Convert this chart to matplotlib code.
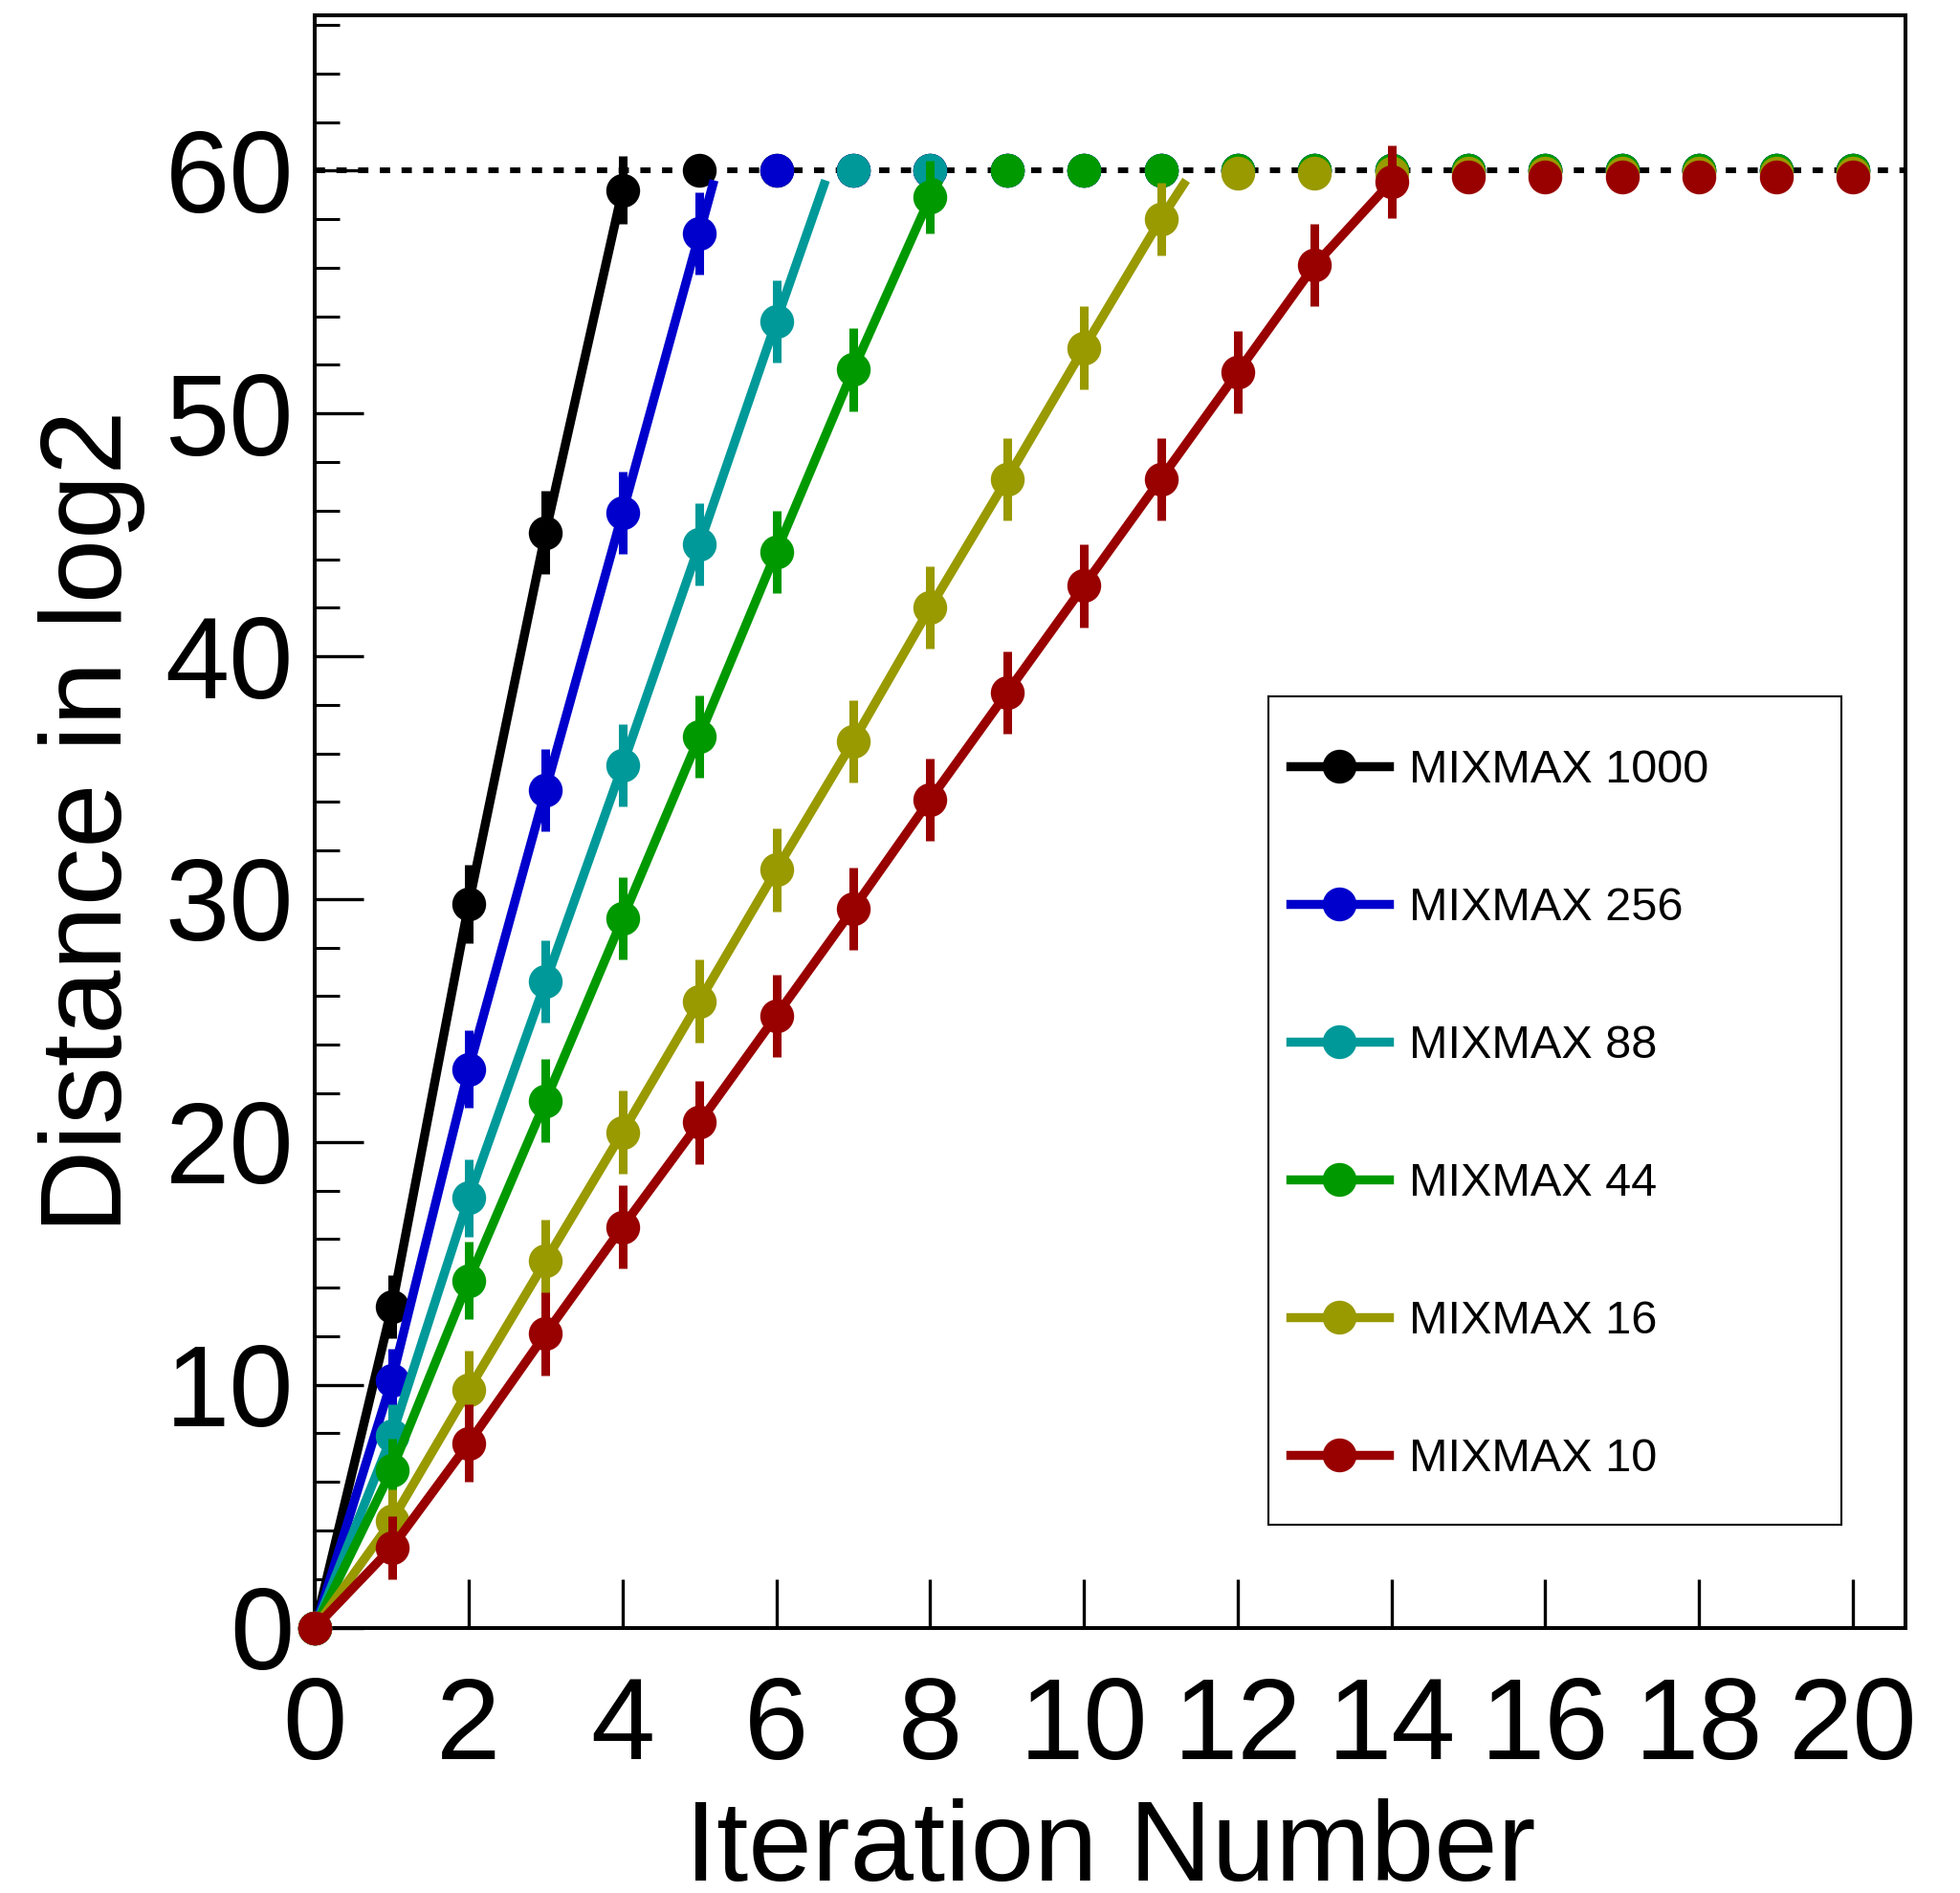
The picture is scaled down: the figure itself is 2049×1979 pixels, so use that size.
import matplotlib
matplotlib.use('Agg')
import matplotlib.pyplot as plt
from matplotlib.lines import Line2D
from matplotlib.patches import Rectangle

# Iteration axis
iterations = list(range(21))

labels = ['MIXMAX 1000', 'MIXMAX 256', 'MIXMAX 88', 'MIXMAX 44', 'MIXMAX 16', 'MIXMAX 10']
colors = ['#000000', '#0000cc', '#009999', '#009900', '#999900', '#990000']

# Rising part of each curve (iteration 0, 1, 2, ...)
rise_1000 = [0, 13.2, 29.8, 45.1, 59.2]
rise_256 = [0, 10.2, 23.0, 34.5, 45.9, 57.4]
rise_88 = [0, 7.9, 17.7, 26.6, 35.5, 44.6, 53.8]
rise_44 = [0, 6.5, 14.3, 21.7, 29.2, 36.7, 44.3, 51.8, 58.9]
rise_16 = [0, 4.4, 9.8, 15.1, 20.4, 25.8, 31.2, 36.5, 42.0, 47.3, 52.7, 58.0]
rise_10 = [0, 3.3, 7.6, 12.1, 16.5, 20.8, 25.2, 29.6, 34.1, 38.5, 42.9, 47.3, 51.7, 56.1, 59.55]

# Error bars on the rising part
err_1000 = [0, 1.3, 1.6, 1.7, 1.4]
err_256 = [0, 1.3, 1.6, 1.7, 1.7, 1.7]
err_88 = [0, 1.3, 1.6, 1.7, 1.7, 1.7, 1.7]
err_44 = [0, 1.3, 1.6, 1.7, 1.7, 1.7, 1.7, 1.7, 1.5]
err_16 = [0, 1.3, 1.6, 1.7, 1.7, 1.7, 1.7, 1.7, 1.7, 1.7, 1.7, 1.5]
err_10 = [0, 1.3, 1.6, 1.7, 1.7, 1.7, 1.7, 1.7, 1.7, 1.7, 1.7, 1.7, 1.7, 1.7, 1.5]

rises = [rise_1000, rise_256, rise_88, rise_44, rise_16, rise_10]
errs = [err_1000, err_256, err_88, err_44, err_16, err_10]

# Saturation level after the rise
plateau = [60, 60, 60, 60, 59.9, 59.75]
# Where the drawn line stops at the saturation level
line_end_x = [4.05, 5.19, 6.64, 8.12, 11.33, 14.0]
line_end_y = 59.6
limit = 60

plt.rcParams['font.family'] = ['Liberation Sans', 'DejaVu Sans']

fig = plt.figure(figsize=(20.49, 19.79), dpi=100)
ax = fig.add_axes([0.1607, 0.1402, 0.8113, 0.8518])

ax.axhline(limit, color='black', lw=4.3, dashes=(1.8, 2.0), zorder=5)

for i in range(len(rises)):
    rise = rises[i]
    n = len(rise)
    xr = iterations[:n]
    xp = iterations[n:]
    yp = [plateau[i]] * len(xp)
    c = colors[i]
    z = 10 + 3 * i
    ax.plot(xr + [line_end_x[i]], rise + [line_end_y], color=c, lw=6.8,
            solid_capstyle='butt', zorder=z)
    ax.errorbar(xr, rise, yerr=errs[i], fmt='none', ecolor=c,
                elinewidth=6.5, capsize=0, zorder=z + 1)
    ax.plot(xr + xp, rise + yp, 'o', color=c, ms=25.5, mew=0, zorder=z + 2,
            clip_on=False)

ax.set_xlim(0, 20.68)
ax.set_ylim(0, 66.4)
ax.set_xticks(range(0, 21, 2))
ax.set_yticks(range(0, 61, 10))
ax.set_yticks(range(0, 67, 2), minor=True)

ax.tick_params(axis='both', direction='in', labelsize=87, width=2.4, length=37)
ax.tick_params(axis='x', pad=36)
ax.tick_params(axis='y', pad=16)
ax.tick_params(axis='y', which='minor', direction='in', width=2.2, length=19)
for s in ax.spines.values():
    s.set_linewidth(2.9)

ax.set_xlabel('Iteration Number', fontsize=86)
ax.set_ylabel('Distance in log2', fontsize=87)
ax.xaxis.set_label_coords(0.5, -0.1060)
ax.yaxis.set_label_coords(-0.1068, 0.5)

# Legend: frame drawn separately so its size matches the reference box
frame = Rectangle((0.5996, 0.0638), 0.960 - 0.5996, 0.5775 - 0.0638,
                  transform=ax.transAxes, fill=True, facecolor='white',
                  edgecolor='black', lw=1.5, zorder=40)
ax.add_patch(frame)
handles = [Line2D([], [], color=colors[i], lw=6.8, marker='o', ms=25.5, mew=0)
           for i in range(len(labels))]
leg = ax.legend(handles, labels, loc='upper left', bbox_to_anchor=(0.6134, 0.5451),
                frameon=False, fontsize=35, borderpad=0, borderaxespad=0,
                handlelength=2.12, handletextpad=0.43, labelspacing=2.04,
                numpoints=1)
leg.set_zorder(50)

fig.savefig('out.png', dpi=100)
